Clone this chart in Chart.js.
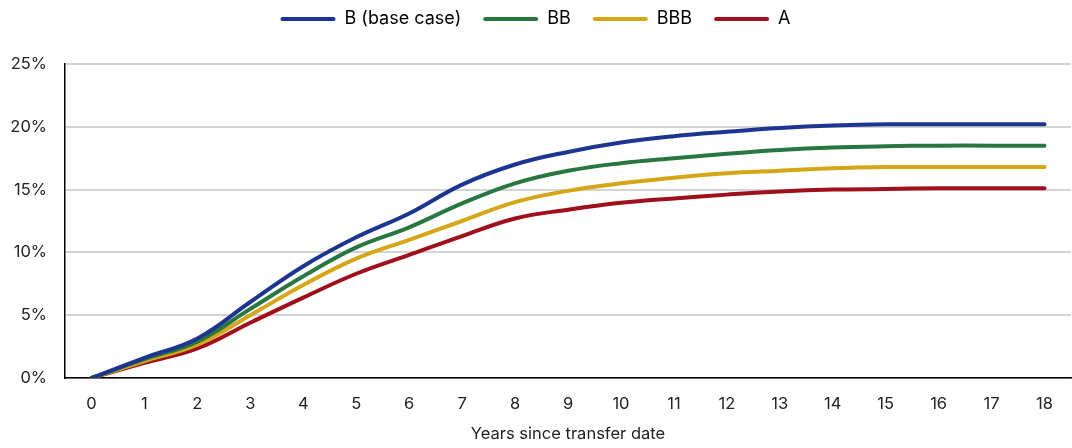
<!DOCTYPE html>
<html>
<head>
<meta charset="utf-8">
<script src="https://cdn.jsdelivr.net/npm/chart.js@4"></script>
<style>
  html, body { margin: 0; padding: 0; background: #fff; }
  #wrap { width: 1072px; height: 448px; }
</style>
</head>
<body>
<div id="wrap"><canvas id="c" width="1072" height="448"></canvas></div>
<script>
const years = ['0','1','2','3','4','5','6','7','8','9','10','11','12','13','14','15','16','17','18'];
const seriesB   = [0, 1.6, 3.15, 6.05, 8.9, 11.2, 13.1, 15.4, 17.0, 18.0, 18.75, 19.25, 19.6, 19.9, 20.1, 20.2, 20.2, 20.2, 20.2];
const seriesBB  = [0, 1.5, 2.9, 5.5, 8.1, 10.4, 12.0, 13.9, 15.5, 16.5, 17.1, 17.5, 17.85, 18.15, 18.35, 18.45, 18.5, 18.5, 18.5];
const seriesBBB = [0, 1.35, 2.65, 5.0, 7.4, 9.5, 11.0, 12.5, 14.0, 14.9, 15.5, 15.95, 16.3, 16.5, 16.7, 16.8, 16.8, 16.8, 16.8];
const seriesA   = [0, 1.2, 2.35, 4.4, 6.4, 8.3, 9.8, 11.3, 12.7, 13.4, 13.95, 14.3, 14.6, 14.85, 15.0, 15.05, 15.1, 15.1, 15.1];
const seriesNames = ['B (base case)', 'BB', 'BBB', 'A'];
const yTicks = [0, 5, 10, 15, 20, 25];

const colors = ['#1b3591', '#287640', '#d6a617', '#a00f1c'];
const data = [seriesB, seriesBB, seriesBBB, seriesA];

Chart.defaults.font.family = 'Inter, "Noto Sans", sans-serif';
Chart.defaults.color = '#222';

const legendGap = {
  id: 'legendGap',
  beforeInit(chart) {
    const fit = chart.legend.fit;
    chart.legend.fit = function () {
      fit.bind(chart.legend)();
      this.height += 26;
    };
  }
};

new Chart(document.getElementById('c'), {
  type: 'line',
  data: {
    labels: years,
    datasets: seriesNames.map((n, i) => ({
      label: n,
      data: data[i],
      borderColor: colors[i],
      backgroundColor: colors[i],
      borderWidth: 4,
      pointRadius: 0,
      tension: 0.4,
      borderCapStyle: 'round',
      fill: false
    }))
  },
  plugins: [legendGap],
  options: {
    responsive: false,
    animation: false,
    layout: { padding: { left: 0, right: 1, top: -12, bottom: 4 } },
    plugins: {
      legend: {
        position: 'top',
        labels: {
          boxWidth: 55,
          boxHeight: 4,
          padding: 22,
          font: { size: 18 },
          color: '#222',
          generateLabels(chart) {
            return chart.data.datasets.map((d, i) => ({
              text: d.label,
              fillStyle: d.borderColor,
              strokeStyle: d.borderColor,
              lineWidth: 0,
              borderRadius: 2,
              datasetIndex: i,
              hidden: false
            }));
          }
        }
      },
      tooltip: { enabled: false }
    },
    scales: {
      x: {
        offset: true,
        afterFit(scale) { scale.height = 66; },
        grid: { display: false, drawTicks: false },
        border: { display: true, color: '#000', width: 1.5 },
        ticks: { padding: 16, font: { size: 16.5 }, color: '#222', maxRotation: 0 },
        title: { display: true, text: 'Years since transfer date', font: { size: 16.5 }, color: '#222', padding: { top: 8, bottom: 0 } }
      },
      y: {
        min: 0, max: 25,
        afterBuildTicks(scale) { scale.ticks = yTicks.map(v => ({ value: v })); },
        afterFit(scale) { scale.width = 65; },
        grid: { color: '#d4d4d4', lineWidth: 2, drawTicks: false },
        border: { display: true, color: '#000', width: 1.5 },
        ticks: { padding: 18, font: { size: 16.5 }, color: '#222', callback: v => v + '%' }
      }
    }
  }
});
</script>
</body>
</html>
